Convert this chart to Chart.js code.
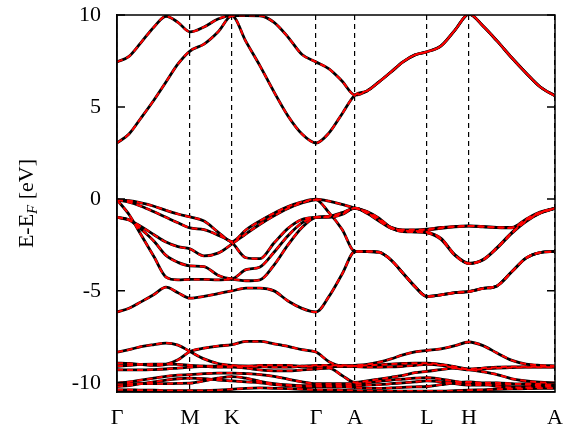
<!DOCTYPE html>
<html>
<head>
<meta charset="utf-8">
<script src="https://cdn.jsdelivr.net/npm/chart.js@4.4.1/dist/chart.umd.min.js"></script>
<style>
  html, body { margin: 0; padding: 0; background: #fff; }
  #wrap { width: 573px; height: 431px; }
</style>
</head>
<body>
<div id="wrap"><canvas id="bands"></canvas></div>
<script>
// k-path (path length, arbitrary units) and high symmetry points
const kPath = [0, 0.12, 0.24, 0.37, 0.49, 0.61, 0.73, 0.87, 1.01, 1.15, 1.29, 1.43, 1.57, 1.71, 1.85, 1.99,
               2.12, 2.25, 2.38, 2.50, 2.62, 2.74, 2.86, 2.98, 3.10, 3.24, 3.38, 3.52, 3.66, 3.80, 3.95, 4.09, 4.23, 4.38];
const kTicks = [0, 0.73, 1.15, 1.99, 2.38, 3.10, 3.52, 4.38];
const kLabels = ['Γ', 'M', 'K', 'Γ', 'A', 'L', 'H', 'A'];
const yTicks = [-10, -5, 0, 5, 10];

// conduction bands (eV)
const cb1 = [3.04, 3.53, 4.40, 5.38, 6.36, 7.34, 8.04, 8.42, 9.08, 9.95, 8.55, 7.23, 5.82, 4.51, 3.53, 3.04,
             3.59, 4.62, 5.65, 5.87, 6.36, 6.90, 7.45, 7.83, 8.00, 8.32, 9.18, 10.05, 9.40, 8.59, 7.66, 6.85, 6.10, 5.60];
const cb2 = [7.45, 7.75, 8.50, 9.35, 9.93, 9.60, 9.08, 9.35, 9.78, 9.97, 9.97, 9.96, 9.60, 8.80, 7.85, 7.45,
             7.07, 6.41, 5.65, 5.87, 6.36, 6.90, 7.45, 7.83, 8.00, 8.32, 9.18, 10.05, 9.40, 8.59, 7.66, 6.85, 6.10, 5.60];

// upper valence bands
const vb1 = [-0.05, -0.10, -0.22, -0.40, -0.62, -0.82, -0.98, -1.20, -1.80, -2.32, -1.68, -1.20, -0.78, -0.42, -0.16, -0.02,
             -0.12, -0.30, -0.50, -0.69, -1.05, -1.55, -1.68, -1.68, -1.65, -1.55, -1.50, -1.47, -1.50, -1.55, -1.55, -1.10, -0.72, -0.51];
const vb2 = [-0.05, -0.18, -0.40, -0.70, -1.00, -1.30, -1.58, -1.67, -1.97, -2.38, -3.20, -3.25, -2.40, -1.60, -1.12, -1.00,
             -0.95, -0.75, -0.50, -0.72, -1.10, -1.58, -1.75, -1.75, -1.70, -1.60, -1.52, -1.48, -1.52, -1.56, -1.58, -1.15, -0.75, -0.51];
const vb3 = [-1.00, -1.15, -1.50, -1.95, -2.35, -2.60, -2.72, -3.10, -2.95, -2.45, -1.90, -1.38, -0.92, -0.52, -0.22, -0.05,
             -0.75, -1.65, -2.86, -2.86, -2.90, -3.32, -4.04, -4.77, -5.31, -5.22, -5.10, -5.04, -4.87, -4.73, -3.95, -3.22, -2.92, -2.86];
const vb4 = [-1.00, -1.14, -1.65, -2.30, -3.07, -3.45, -3.64, -3.68, -4.15, -4.33, -3.85, -3.70, -2.90, -2.00, -1.30, -1.00,
             -1.00, -0.85, -0.50, -0.75, -1.15, -1.55, -1.72, -1.75, -1.80, -2.14, -3.04, -3.50, -3.32, -2.68, -1.86, -1.23, -0.78, -0.51];
const vb5 = [-0.05, -0.85, -1.95, -3.15, -4.25, -4.40, -4.38, -4.38, -4.40, -4.38, -4.45, -4.40, -3.60, -2.50, -1.55, -1.00,
             -0.95, -0.80, -0.50, -0.78, -1.20, -1.60, -1.78, -1.80, -1.85, -2.20, -3.08, -3.52, -3.30, -2.65, -1.82, -1.20, -0.76, -0.51];
const vb6 = [-6.15, -5.95, -5.60, -5.20, -4.80, -5.10, -5.40, -5.30, -5.15, -5.00, -4.85, -4.85, -5.00, -5.55, -5.95, -6.15,
             -5.30, -4.10, -2.86, -2.86, -2.90, -3.32, -4.04, -4.77, -5.31, -5.22, -5.10, -5.04, -4.87, -4.73, -3.95, -3.22, -2.92, -2.86];

// lower (semicore) bands
const db1 = [-8.33, -8.20, -8.03, -7.92, -7.84, -7.95, -8.30, -8.70, -8.95, -9.05, -9.10, -9.12, -9.15, -9.15, -9.10, -9.05,
             -9.05, -9.05, -9.08, -9.05, -9.02, -8.98, -8.95, -8.93, -8.93, -9.00, -9.12, -9.25, -9.20, -9.15, -9.13, -9.13, -9.13, -9.13];
const db2 = [-8.93, -8.95, -9.00, -9.05, -9.00, -8.75, -8.30, -8.12, -8.00, -7.93, -7.75, -7.75, -7.88, -8.02, -8.20, -8.33,
             -8.85, -9.08, -9.05, -9.00, -8.88, -8.70, -8.48, -8.32, -8.24, -8.15, -7.98, -7.78, -7.98, -8.38, -8.78, -8.98, -9.05, -9.08];
const db3 = [-9.10, -9.05, -9.00, -8.98, -8.98, -9.00, -9.05, -9.10, -9.15, -9.15, -9.20, -9.30, -9.35, -9.35, -9.30, -9.25,
             -9.20, -9.60, -9.98, -9.90, -9.80, -9.70, -9.60, -9.45, -9.38, -9.28, -9.20, -9.28, -9.40, -9.55, -9.78, -9.90, -9.97, -10.00];
const db4 = [-9.29, -9.30, -9.30, -9.28, -9.25, -9.20, -9.15, -9.10, -9.10, -9.10, -9.10, -9.05, -9.05, -9.05, -9.10, -9.12,
             -9.12, -9.12, -9.12, -9.15, -9.15, -9.13, -9.10, -9.05, -9.00, -9.05, -9.20, -9.30, -9.25, -9.20, -9.17, -9.15, -9.15, -9.15];
const db5 = [-10.02, -9.95, -9.85, -9.75, -9.65, -9.58, -9.56, -9.50, -9.47, -9.47, -9.50, -9.55, -9.65, -9.80, -9.95, -10.05,
             -10.05, -10.05, -10.05, -10.00, -9.92, -9.85, -9.80, -9.75, -9.72, -9.80, -9.92, -10.00, -10.00, -10.00, -10.05, -10.10, -10.12, -10.15];
const db6 = [-10.20, -10.15, -10.05, -9.95, -9.85, -9.78, -9.75, -9.78, -9.85, -9.90, -9.95, -10.00, -10.10, -10.15, -10.20, -10.20,
             -10.20, -10.22, -10.25, -10.30, -10.30, -10.28, -10.25, -10.22, -10.20, -10.10, -10.00, -9.95, -10.05, -10.20, -10.25, -10.25, -10.22, -10.20];
const db7 = [-10.38, -10.38, -10.40, -10.40, -10.42, -10.42, -10.42, -10.42, -10.40, -10.35, -10.30, -10.28, -10.30, -10.32, -10.35, -10.38,
             -10.38, -10.40, -10.42, -10.45, -10.45, -10.45, -10.45, -10.45, -10.45, -10.45, -10.43, -10.40, -10.38, -10.35, -10.33, -10.32, -10.30, -10.30];
const db8 = [-10.05, -10.05, -10.05, -10.05, -10.05, -10.03, -10.02, -9.90, -9.75, -9.66, -9.75, -9.92, -10.05, -10.12, -10.15, -10.15,
             -10.15, -10.15, -10.15, -10.12, -10.10, -10.05, -10.00, -9.95, -9.90, -9.95, -10.05, -10.12, -10.12, -10.10, -10.08, -10.05, -10.05, -10.05];

const allBands = [cb1, cb2, vb1, vb2, vb3, vb4, vb5, vb6, db1, db2, db3, db4, db5, db6, db7, db8];

Chart.defaults.font.family = "'Liberation Serif', serif";
Chart.defaults.color = '#000';

// each band twice: black solid underneath, red dashed on top
const datasets = [];
allBands.forEach(band => {
    const pts = band.map((e, i) => ({ x: kPath[i], y: e }));
    datasets.push({ data: pts, borderColor: '#ff0000', borderWidth: 2, borderDash: [6, 4], order: 0 });
    datasets.push({ data: pts, borderColor: '#000000', borderWidth: 2.8, order: 1 });
});

// frame, inward y tics (both sides) and the y title with subscript
const framePlugin = {
    id: 'frame',
    afterDraw(chart) {
        const { ctx, chartArea: a, scales: { y } } = chart;
        ctx.save();
        ctx.strokeStyle = '#000';
        ctx.lineWidth = 1.5;
        ctx.strokeRect(a.left, a.top, a.right - a.left, a.bottom - a.top);
        yTicks.forEach(v => {
            const py = y.getPixelForValue(v);
            ctx.beginPath();
            ctx.moveTo(a.left, py); ctx.lineTo(a.left + 8, py);
            ctx.moveTo(a.right, py); ctx.lineTo(a.right - 8, py);
            ctx.stroke();
        });
        // y axis title
        const big = "22px 'Liberation Serif'";
        const sub = "italic 15px 'Liberation Serif'";
        ctx.font = big;
        const w1 = ctx.measureText('E-E').width;
        const w3 = ctx.measureText(' [eV]').width;
        ctx.font = sub;
        const w2 = ctx.measureText('F').width;
        const total = w1 + w2 + w3;
        ctx.translate(33, (a.top + a.bottom) / 2);
        ctx.rotate(-Math.PI / 2);
        ctx.fillStyle = '#000';
        ctx.textBaseline = 'alphabetic';
        ctx.textAlign = 'left';
        let tx = -total / 2;
        ctx.font = big;
        ctx.fillText('E-E', tx, 0);
        tx += w1;
        ctx.font = sub;
        ctx.fillText('F', tx, 4);
        tx += w2;
        ctx.font = big;
        ctx.fillText(' [eV]', tx, 0);
        ctx.restore();
    }
};

const ctx = document.getElementById('bands').getContext('2d');
new Chart(ctx, {
    type: 'line',
    data: { datasets: datasets },
    options: {
        responsive: true,
        maintainAspectRatio: false,
        animation: false,
        layout: { padding: { top: 15, right: 18, left: 0, bottom: 0 } },
        elements: {
            point: { radius: 0 },
            line: { cubicInterpolationMode: 'monotone', fill: false }
        },
        plugins: { legend: { display: false }, tooltip: { enabled: false } },
        scales: {
            x: {
                type: 'linear',
                min: 0,
                max: 4.38,
                afterBuildTicks: axis => { axis.ticks = kTicks.map(v => ({ value: v })); },
                afterFit: scale => {
                    scale.height = 39;
                    scale.paddingLeft = 0;
                    scale.paddingRight = 0;
                },
                ticks: {
                    autoSkip: false,
                    maxRotation: 0,
                    padding: 13,
                    font: { size: 22 },
                    callback: (v, i) => kLabels[i]
                },
                grid: { color: '#000', lineWidth: 1.2, drawTicks: false },
                border: { display: true, color: '#000', width: 1.5, dash: [5, 4] }
            },
            y: {
                min: -10.5,
                max: 10,
                afterBuildTicks: axis => { axis.ticks = yTicks.map(v => ({ value: v })); },
                afterFit: scale => {
                    scale.width = 117;
                    scale.paddingTop = 0;
                    scale.paddingBottom = 0;
                },
                ticks: { padding: 16, font: { size: 22 } },
                grid: { display: false, drawTicks: false },
                border: { display: true, color: '#000', width: 1.5 }
            }
        }
    },
    plugins: [framePlugin]
});
</script>
</body>
</html>
